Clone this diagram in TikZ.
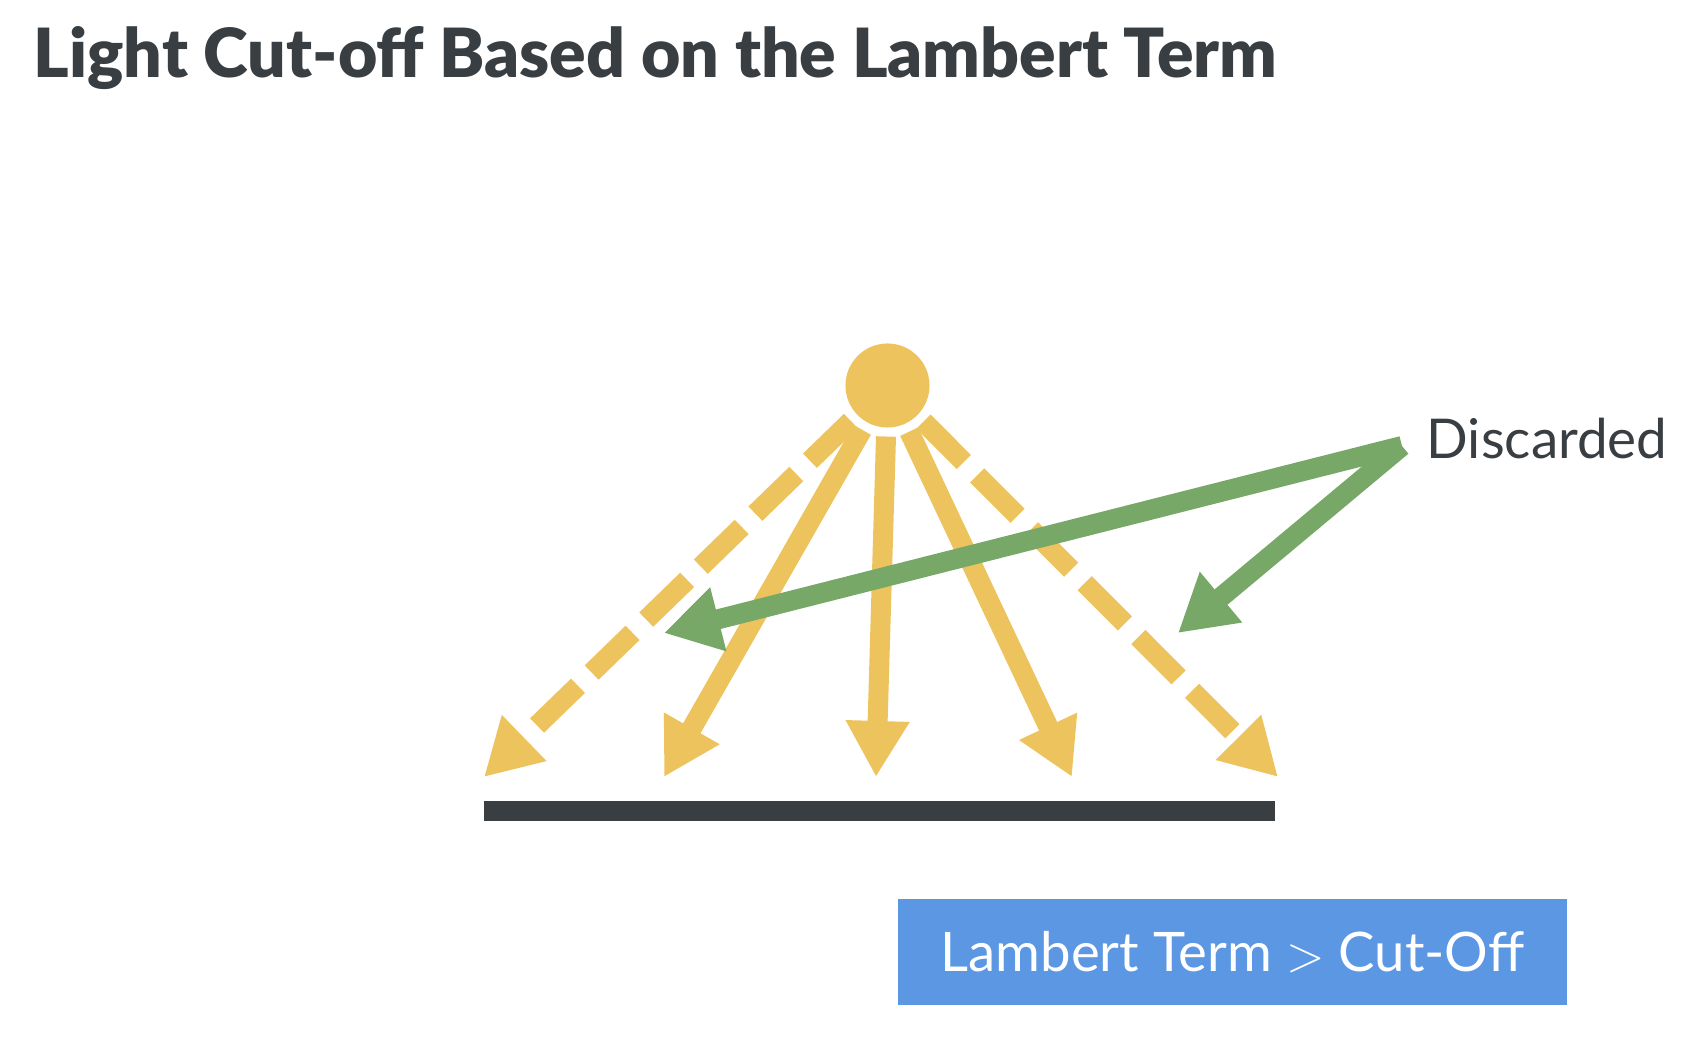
\documentclass[tikz,border=0pt]{standalone}
\usepackage{fontspec}
\setmainfont{Lato}
\newfontfamily\titlefont{Lato Black}
\usetikzlibrary{arrows.meta}
\definecolor{lightyellow}{RGB}{237,195,94}
\definecolor{discgreen}{RGB}{120,168,103}
\definecolor{darkgray}{RGB}{56,62,66}
\definecolor{boxblue}{RGB}{91,151,227}

\begin{document}
\begin{tikzpicture}[x=0.01cm,y=-0.01cm,
    ray/.style={draw=lightyellow, line width=0.2cm, -{Triangle[length=0.56cm,width=0.6cm]}},
    dashray/.style={ray, dash pattern=on 0.57cm off 0.19cm},
    pointer/.style={draw=discgreen, line width=0.2cm, -{Triangle[length=0.56cm,width=0.62cm]}}]
    \useasboundingbox (0,0) rectangle (1693,1043);
    \node[anchor=base west, inner sep=0, text=darkgray, font=\titlefont\fontsize{19.3}{23}\selectfont] (title) at (33,78) {Light Cut-off Based on the Lambert Term};
    \node[circle, fill=lightyellow, minimum size=0.84cm, inner sep=0, outer sep=0.09cm] (light) at (887.5,385.5) {};
    \node[fill=darkgray, minimum width=7.91cm, minimum height=0.2cm, inner sep=0] (floor) at (879.5,811) {};
    % ray ends
    \coordinate (t1) at (484,777);
    \coordinate (t2) at (664,777);
    \coordinate (t3) at (876,777);
    \coordinate (t4) at (1072,777);
    \coordinate (t5) at (1278,777);
    \draw[dashray] (light) -- (t1);
    \draw[ray] (light) -- (t2);
    \draw[ray] (light) -- (t3);
    \draw[ray] (light) -- (t4);
    \draw[dashray] (light) -- (t5);
    % discarded rays
    \node[anchor=base west, inner sep=0, text=darkgray, font=\fontsize{15.6}{18}\selectfont] (disc) at (1426,459) {Discarded};
    \coordinate (gsrc) at ([xshift=-0.24cm, yshift=-0.07cm]disc.west);
    \coordinate (g1) at (664,633);
    \coordinate (g2) at (1178,633);
    \draw[pointer] (gsrc) -- (g1);
    \draw[pointer] (gsrc) -- (g2);
    \node[fill=boxblue, minimum width=6.69cm, minimum height=1.06cm, text=white, font=\fontsize{15.5}{19}\selectfont] (cond) at (1232.5,952) {Lambert Term $>$ Cut-Off};
\end{tikzpicture}
\end{document}
